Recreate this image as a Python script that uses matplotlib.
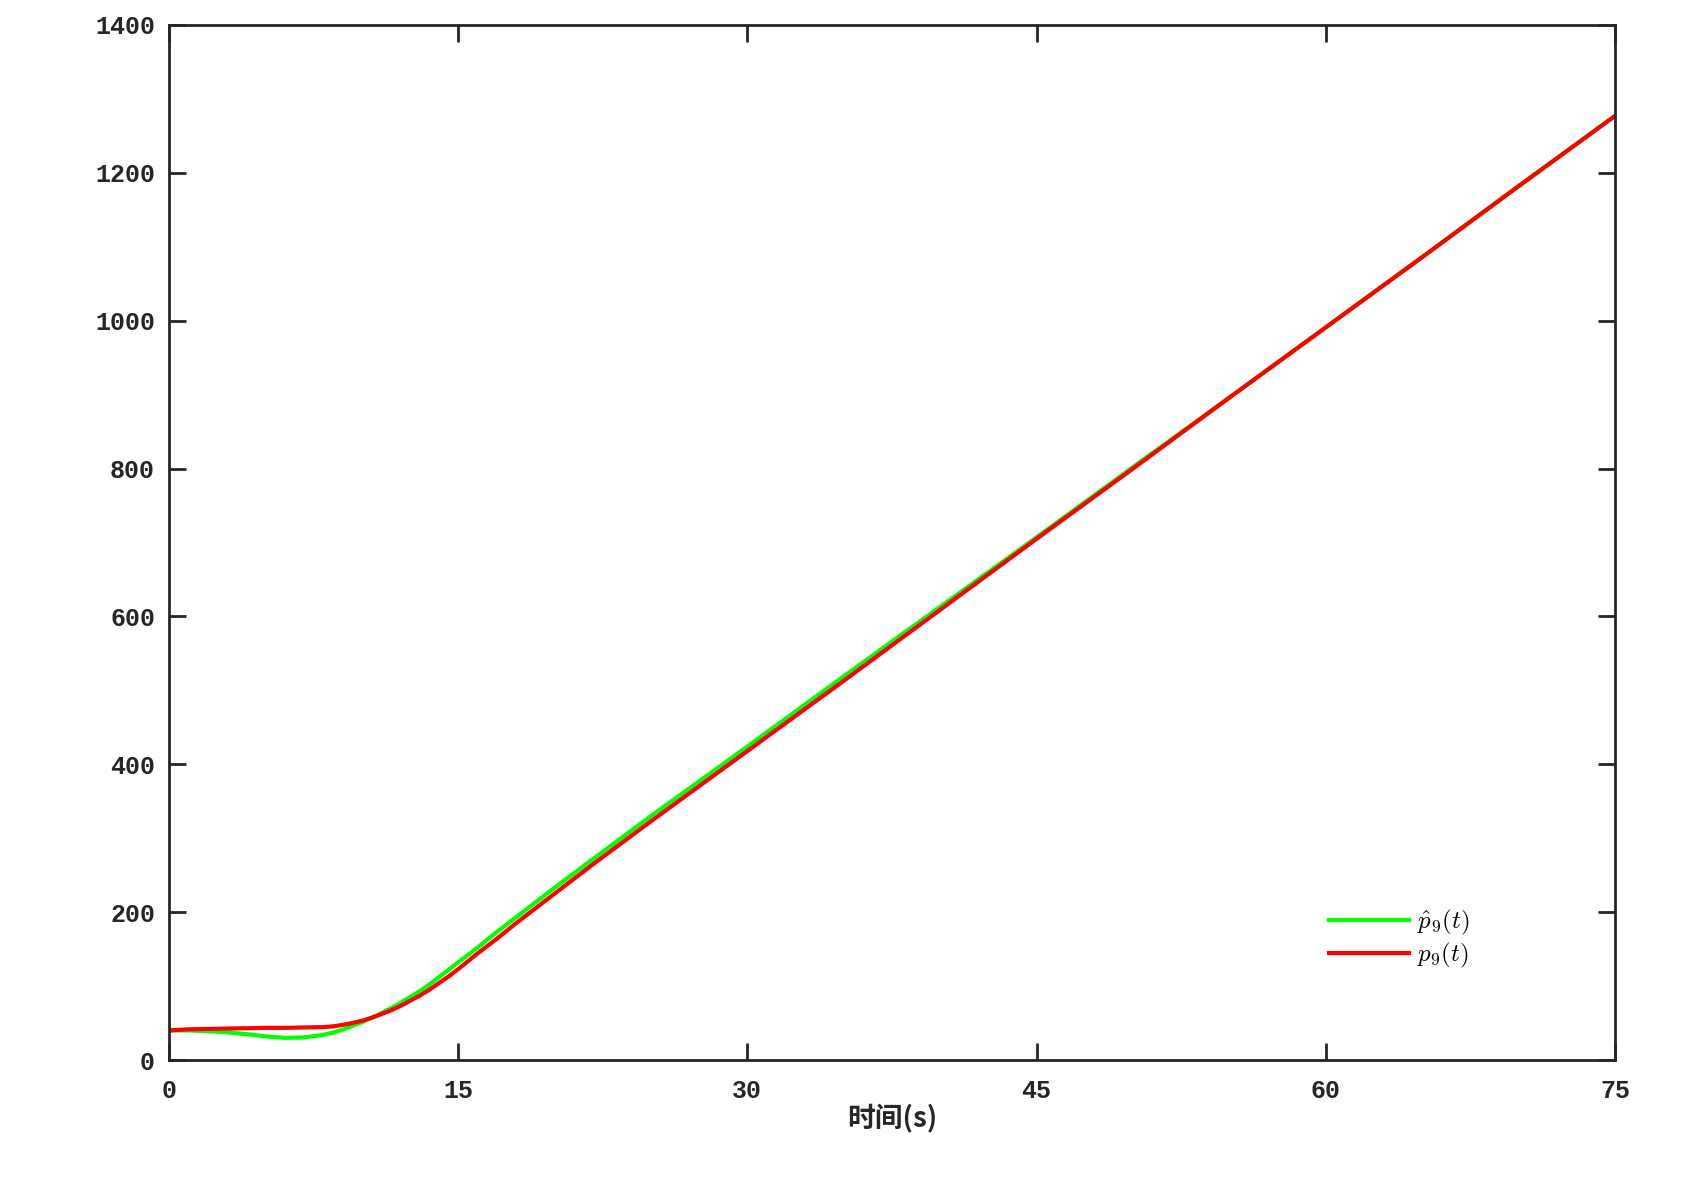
import matplotlib.pyplot as plt

plt.rcParams['mathtext.fontset'] = 'cm'

# time points (s) and the two series
t = [0, 1, 2, 3, 4, 5, 6, 7, 8, 8.5, 9, 9.5, 10, 10.5, 11, 11.5, 12, 12.5, 13, 13.5,
     14, 14.5, 15, 16, 17, 18, 20, 22, 25, 30, 35, 40, 45, 50, 55, 60, 65, 70, 75]
p_hat = [40, 40, 39, 37.5, 35, 32, 30, 30.5, 34, 37, 41, 46, 51, 57, 63, 70, 77, 85,
         93, 102, 112, 122, 132, 152, 173, 193, 233, 272, 330, 424, 519, 613, 707,
         802, 896, 991, 1086, 1182, 1277]
p_true = [40, 41.5, 42, 42.5, 43, 43.5, 43.5, 44, 44.5, 45.5, 47.5, 50, 53, 57, 62,
          67, 73, 80, 87, 95, 104, 113, 123, 144, 164, 185, 225, 265, 323, 418, 513,
          609, 705, 800, 896, 991, 1086, 1182, 1277]

xticks = [0, 15, 30, 45, 60, 75]
yticks = [0, 200, 400, 600, 800, 1000, 1200, 1400]

fig = plt.figure(figsize=(16.99, 11.77), dpi=100)
ax = fig.add_axes([169 / 1699, 1 - 1060 / 1177, (1615 - 169) / 1699, (1060 - 25) / 1177])

ax.plot(t, p_hat, color='#00ff00', lw=3, label=r'$\hat{p}_9(t)$')
ax.plot(t, p_true, color='#ff0000', lw=3, label=r'$p_9(t)$')

ax.set_xlim(0, 75)
ax.set_ylim(0, 1400)
ax.set_xticks(xticks)
ax.set_yticks(yticks)
ax.tick_params(direction='in', top=True, right=True, length=12, width=2,
               color='#262626', labelsize=18, pad=10)
ax.tick_params(axis='x', pad=14)
for lab in ax.get_xticklabels() + ax.get_yticklabels():
    lab.set_family(['Liberation Mono', 'DejaVu Sans Mono'])
    lab.set_fontweight('bold')
    lab.set_color('#262626')
for s in ax.spines.values():
    s.set_linewidth(2)
    s.set_color('#262626')

ax.set_xlabel('时间(s)', family=['Noto Sans CJK SC', 'DejaVu Sans'], fontweight='bold',
              fontsize=20, color='#262626', labelpad=0)

leg = ax.legend(loc='lower right', bbox_to_anchor=(0.915, 0.065), frameon=False,
                fontsize=18, handlelength=3.2, handletextpad=0.3, labelspacing=0.15)

fig.savefig('out.png', dpi=100)
